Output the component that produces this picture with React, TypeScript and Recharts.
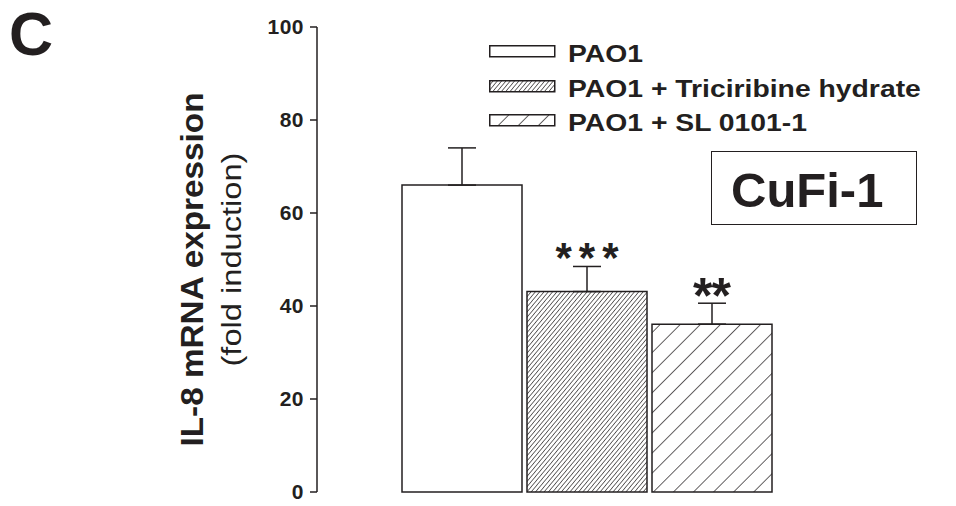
import React from "react";
import {
  BarChart,
  Bar,
  XAxis,
  YAxis,
  ErrorBar,
  LabelList,
  Legend,
} from "recharts";

// values
const groups = ["CuFi-1"];
const seriesNames = ["PAO1", "PAO1 + Triciribine hydrate", "PAO1 + SL 0101-1"];
const means = [66.0, 43.1, 36.1];
const sems = [8.0, 5.4, 4.5];
const stars = ["", "***", "**"];
const yTicks = [0, 20, 40, 60, 80, 100];

const INK = "#231f20";
const FONT = "'Liberation Sans', Arial, Helvetica, sans-serif";
const fills = ["#ffffff", "url(#hatchDense)", "url(#hatchWide)"];
// star mark look, per series
const starLook = [
  { size: 0, spacing: 0 },
  { size: 42, spacing: 7 },
  { size: 50, spacing: -1 },
];

const row: Record<string, any> = { cell: groups[0] };
seriesNames.forEach((_, i) => {
  row[`s${i}`] = means[i];
  row[`e${i}`] = [0, sems[i]];
});
const data = [row];

function Patterns() {
  return (
    <defs>
      <pattern
        id="hatchDense"
        patternUnits="userSpaceOnUse"
        width="3.3"
        height="10"
        patternTransform="rotate(40)"
      >
        <rect width="3.3" height="10" fill="#fff" />
        <line x1="0" y1="0" x2="0" y2="10" stroke={INK} strokeWidth="1.3" />
      </pattern>
      <pattern
        id="hatchWide"
        patternUnits="userSpaceOnUse"
        width="14.2"
        height="10"
        patternTransform="rotate(45)"
      >
        <rect width="14.2" height="10" fill="#fff" />
        <line x1="0" y1="0" x2="0" y2="10" stroke={INK} strokeWidth="1.4" />
      </pattern>
    </defs>
  );
}

const renderStars = (i: number) => (props: any) => {
  const { x, y, width, height } = props;
  const label = stars[i];
  if (!label) return null;
  const perUnit = height / means[i];
  const errTop = y - sems[i] * perUnit;
  const { size, spacing } = starLook[i];
  const center = errTop - 14;
  return (
    <text
      x={x + width / 2 + spacing / 2}
      y={center + size * 0.47}
      textAnchor="middle"
      fontSize={size}
      fontWeight={700}
      fill={INK}
      letterSpacing={spacing}
    >
      {label}
    </text>
  );
};

const renderYLabel = (props: any) => {
  const vb = props.viewBox || { x: 257, y: 27, width: 60, height: 465 };
  const mid = vb.y + vb.height / 2;
  const bx = vb.x - 65;
  const by = mid + 10;
  const rx = vb.x - 25;
  const ry = mid;
  return (
    <g>
      <text
        x={bx}
        y={by}
        transform={`rotate(-90 ${bx} ${by})`}
        textAnchor="middle"
        dominantBaseline="central"
        fontSize={31}
        fontWeight={700}
        fill={INK}
        textLength={354}
        lengthAdjust="spacingAndGlyphs"
      >
        IL-8 mRNA expression
      </text>
      <text
        x={rx}
        y={ry}
        transform={`rotate(-90 ${rx} ${ry})`}
        textAnchor="middle"
        dominantBaseline="central"
        fontSize={27}
        fill={INK}
        textLength={214}
        lengthAdjust="spacingAndGlyphs"
      >
        (fold induction)
      </text>
    </g>
  );
};

const renderLegend = () => (
  <div style={{ fontFamily: FONT }}>
    {seriesNames.map((name, i) => (
      <div
        key={name}
        style={{ position: "relative", height: 34.5, width: 460 }}
      >
        <svg
          width={67}
          height={13}
          style={{ position: "absolute", left: 0, top: 8 }}
        >
          <rect
            x={0.75}
            y={0.75}
            width={65}
            height={11}
            fill={fills[i]}
            stroke={INK}
            strokeWidth={1.5}
          />
        </svg>
        <span
          style={{
            position: "absolute",
            left: 79,
            top: 0,
            fontSize: 24,
            lineHeight: "34px",
            fontWeight: 700,
            color: INK,
            whiteSpace: "nowrap",
            transform: "scaleX(1.18)",
            transformOrigin: "left center",
          }}
        >
          {name}
        </span>
      </div>
    ))}
  </div>
);

export default function App() {
  return (
    <div
      style={{
        position: "absolute",
        left: 0,
        top: 0,
        width: 956,
        height: 506,
        background: "#fff",
        fontFamily: FONT,
      }}
    >
      <div
        style={{
          position: "absolute",
          left: 9,
          top: 4,
          fontSize: 61,
          lineHeight: "60px",
          fontWeight: 700,
          color: INK,
        }}
      >
        C
      </div>

      <BarChart
        width={956}
        height={506}
        data={data}
        margin={{ top: 27, right: 0, bottom: 14, left: 257 }}
        barSize={120}
        barGap={5}
      >
        <Patterns />
        <XAxis
          dataKey="cell"
          tick={false}
          tickLine={false}
          height={0}
          padding={{ left: 0, right: 100 }}
          axisLine={{ stroke: INK, strokeWidth: 1.5 }}
        />
        <YAxis
          width={60}
          domain={[0, 100]}
          ticks={yTicks}
          interval={0}
          tickSize={7}
          tickMargin={6}
          axisLine={{ stroke: INK, strokeWidth: 1.5 }}
          tickLine={{ stroke: INK, strokeWidth: 1.5 }}
          tick={{ fontSize: 21, fontWeight: 700, fill: INK, letterSpacing: 0.5 }}
          label={{ content: renderYLabel }}
        />
        <Legend
          layout="vertical"
          align="center"
          verticalAlign="middle"
          content={renderLegend}
          wrapperStyle={{ position: "absolute", top: 37, left: 489, width: 460 }}
        />
        {seriesNames.map((name, i) => (
          <Bar
            key={name}
            dataKey={`s${i}`}
            name={name}
            fill={fills[i]}
            stroke={INK}
            strokeWidth={1.5}
            isAnimationActive={false}
          >
            <ErrorBar
              dataKey={`e${i}`}
              width={14}
              stroke={INK}
              strokeWidth={1.5}
              direction="y"
            />
            <LabelList dataKey={`s${i}`} content={renderStars(i)} />
          </Bar>
        ))}
      </BarChart>

      <div
        style={{
          position: "absolute",
          left: 711,
          top: 151,
          width: 204,
          height: 72,
          border: `1.5px solid ${INK}`,
          background: "#fff",
        }}
      >
        <span
          style={{
            position: "absolute",
            left: 19,
            top: 14,
            fontSize: 49,
            lineHeight: "49px",
            fontWeight: 700,
            color: INK,
            whiteSpace: "nowrap",
          }}
        >
          {groups[0]}
        </span>
      </div>
    </div>
  );
}
